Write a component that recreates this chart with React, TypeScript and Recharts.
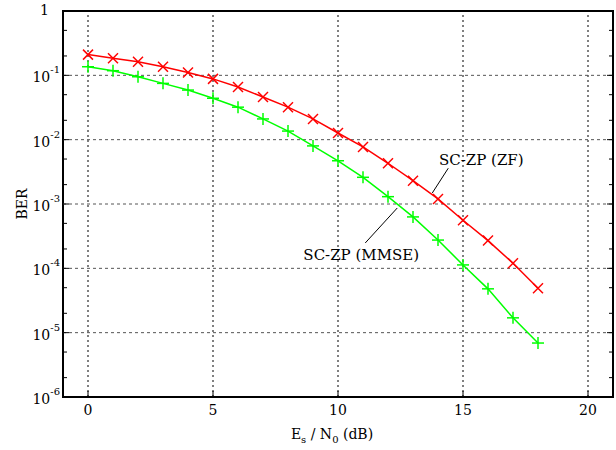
import React from "react";
import {
  LineChart,
  Line,
  XAxis,
  YAxis,
  ReferenceLine,
  ReferenceArea,
  ReferenceDot,
} from "recharts";

// Es/N0 in dB
const snr = [0, 1, 2, 3, 4, 5, 6, 7, 8, 9, 10, 11, 12, 13, 14, 15, 16, 17, 18];

// BER curves
const berZF = [
  0.21, 0.184, 0.163, 0.136, 0.111, 0.088, 0.066, 0.046, 0.032, 0.021, 0.0127,
  0.0077, 0.0043, 0.0023, 0.0012, 5.6e-4, 2.7e-4, 1.2e-4, 4.9e-5,
];
const berMMSE = [
  0.136, 0.118, 0.095, 0.075, 0.059, 0.044, 0.032, 0.021, 0.0136, 0.008, 0.0047,
  0.0026, 0.0013, 6.3e-4, 2.75e-4, 1.13e-4, 4.8e-5, 1.7e-5, 6.9e-6,
];

const xTicks = [0, 5, 10, 15, 20];
const yDecades = [1e-6, 1e-5, 1e-4, 1e-3, 1e-2, 1e-1, 1];
const yMinor = yDecades.slice(0, -1).flatMap((d) => [2 * d, 5 * d]);

const FONT = "DejaVu Serif";

const data = snr.map((s, i) => ({ snr: s, zf: berZF[i], mmse: berMMSE[i] }));

const isDecade = (v: number) => {
  const l = Math.log10(v);
  return Math.abs(l - Math.round(l)) < 1e-6;
};

const LeftTick = (props: any) => {
  const { x, y, payload } = props;
  const v = payload.value;
  const major = isDecade(v);
  const exp = Math.round(Math.log10(v));
  return (
    <g>
      <line x1={x} x2={x + (major ? 6 : 4)} y1={y} y2={y} stroke="#000" strokeWidth={1} />
      {major &&
        (exp === 0 ? (
          <text x={x - 14} y={y + 4} textAnchor="end" fontFamily={FONT} fontSize={14} fill="#000">
            1
          </text>
        ) : (
          <text x={x - 3} y={y + 7} textAnchor="end" fontFamily={FONT} fontSize={14} fill="#000">
            10
            <tspan dy={-9} fontSize={10}>
              {exp}
            </tspan>
          </text>
        ))}
    </g>
  );
};

const RightTick = (props: any) => {
  const { x, y, payload } = props;
  const major = isDecade(payload.value);
  return <line x1={x} x2={x - (major ? 6 : 4)} y1={y} y2={y} stroke="#000" strokeWidth={1} />;
};

const BottomTick = (props: any) => {
  const { x, y, payload } = props;
  return (
    <g>
      <line x1={x} x2={x} y1={y} y2={y - 6} stroke="#000" />
      <text x={x} y={y + 18} textAnchor="middle" fontFamily={FONT} fontSize={14} fill="#000">
        {payload.value}
      </text>
    </g>
  );
};

const TopTick = (props: any) => {
  const { x, y } = props;
  return <line x1={x} x2={x} y1={y} y2={y + 6} stroke="#000" />;
};

const Cross = (props: any) => {
  const { cx, cy, index } = props;
  const s = 5;
  return (
    <g key={`zf-${index}`}>
      <line x1={cx - s} y1={cy - s} x2={cx + s} y2={cy + s} stroke="#ff0000" strokeWidth={1.5} />
      <line x1={cx - s} y1={cy + s} x2={cx + s} y2={cy - s} stroke="#ff0000" strokeWidth={1.5} />
    </g>
  );
};

const Plus = (props: any) => {
  const { cx, cy, index } = props;
  const s = 6;
  return (
    <g key={`mmse-${index}`}>
      <line x1={cx - s} y1={cy} x2={cx + s} y2={cy} stroke="#00ff00" strokeWidth={1.5} />
      <line x1={cx} y1={cy - s} x2={cx} y2={cy + s} stroke="#00ff00" strokeWidth={1.5} />
    </g>
  );
};

const labelText = (text: string) => (p: any) =>
  (
    <text
      x={p.cx}
      y={p.cy}
      textAnchor="middle"
      dominantBaseline="central"
      fontFamily={FONT}
      fontSize={15}
      fill="#000"
    >
      {text}
    </text>
  );

const XLabel = (props: any) => {
  const vb = props.viewBox;
  return (
    <text
      x={vb.x + vb.width / 2 - 6}
      y={vb.y + 42}
      textAnchor="middle"
      fontFamily={FONT}
      fontSize={14}
      fill="#000"
    >
      E
      <tspan fontSize={10} dy={4}>s</tspan>
      <tspan dy={-4}> / N</tspan>
      <tspan fontSize={10} dy={4}>0</tspan>
      <tspan dy={-4}> (dB)</tspan>
    </text>
  );
};

const YLabel = (props: any) => {
  const vb = props.viewBox;
  const cx = 22;
  const cy = vb.y + vb.height / 2;
  return (
    <text
      x={cx}
      y={cy}
      transform={`rotate(-90, ${cx}, ${cy})`}
      textAnchor="middle"
      dominantBaseline="central"
      fontFamily={FONT}
      fontSize={14}
      fill="#000"
    >
      BER
    </text>
  );
};

export default function App() {
  return (
    <div style={{ position: "absolute", left: 0, top: 0, width: 616, height: 450, background: "#fff" }}>
      <LineChart width={616} height={450} data={data} margin={{ top: 11, right: 0, bottom: 0, left: 0 }}>
        <XAxis
          xAxisId="b"
          dataKey="snr"
          type="number"
          domain={[-1, 21]}
          ticks={xTicks}
          interval={0}
          height={53}
          tickSize={0}
          tickMargin={0}
          tickLine={false}
          axisLine={false}
          tick={<BottomTick />}
          label={<XLabel />}
        />
        <XAxis
          xAxisId="t"
          orientation="top"
          dataKey="snr"
          type="number"
          domain={[-1, 21]}
          ticks={xTicks}
          interval={0}
          height={0}
          tickSize={0}
          tickMargin={0}
          tickLine={false}
          axisLine={false}
          tick={<TopTick />}
        />
        <YAxis
          yAxisId="l"
          scale="log"
          domain={[1e-6, 1]}
          allowDataOverflow
          ticks={[...yDecades, ...yMinor]}
          interval={0}
          width={63}
          tickSize={0}
          tickMargin={0}
          tickLine={false}
          axisLine={false}
          tick={<LeftTick />}
          label={<YLabel />}
        />
        <YAxis
          yAxisId="r"
          orientation="right"
          scale="log"
          domain={[1e-6, 1]}
          allowDataOverflow
          ticks={[...yDecades, ...yMinor]}
          interval={0}
          width={3}
          tickSize={0}
          tickMargin={0}
          tickLine={false}
          axisLine={false}
          tick={<RightTick />}
        />

        {xTicks.map((t) => (
          <ReferenceLine
            key={`vx${t}`}
            xAxisId="b"
            yAxisId="l"
            x={t}
            stroke="#000"
            strokeDasharray="2 3"
          />
        ))}
        {yDecades.slice(1, -1).map((d) => (
          <ReferenceLine
            key={`hy${d}`}
            xAxisId="b"
            yAxisId="l"
            y={d}
            stroke="#555"
            strokeDasharray="3 3"
          />
        ))}

        <ReferenceLine
          xAxisId="b"
          yAxisId="l"
          segment={[
            { x: 13.77, y: 1.48e-3 },
            { x: 14.41, y: 3.6e-3 },
          ]}
          stroke="#000"
        />
        <ReferenceLine
          xAxisId="b"
          yAxisId="l"
          segment={[
            { x: 11.09, y: 2.48e-4 },
            { x: 12.37, y: 8.67e-4 },
          ]}
          stroke="#000"
        />
        <ReferenceDot xAxisId="b" yAxisId="l" x={15.73} y={4.83e-3} r={0} shape={labelText("SC-ZP (ZF)")} />
        <ReferenceDot xAxisId="b" yAxisId="l" x={10.93} y={1.61e-4} r={0} shape={labelText("SC-ZP (MMSE)")} />

        <Line
          xAxisId="b"
          yAxisId="l"
          type="linear"
          dataKey="zf"
          stroke="#ff0000"
          strokeWidth={1.5}
          dot={Cross}
          isAnimationActive={false}
        />
        <Line
          xAxisId="b"
          yAxisId="l"
          type="linear"
          dataKey="mmse"
          stroke="#00ff00"
          strokeWidth={1.5}
          dot={Plus}
          isAnimationActive={false}
        />

        <ReferenceArea
          xAxisId="b"
          yAxisId="l"
          x1={-1}
          x2={21}
          y1={1e-6}
          y2={1}
          fill="none"
          fillOpacity={0}
          stroke="#000"
          strokeWidth={2}
        />
      </LineChart>
    </div>
  );
}
